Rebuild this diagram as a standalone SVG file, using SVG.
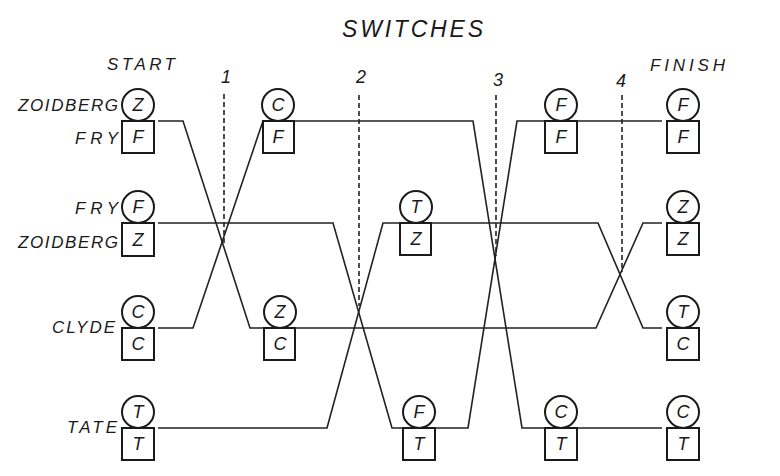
<svg xmlns="http://www.w3.org/2000/svg" width="780" height="476" viewBox="0 0 780 476">
<style>
.bg{fill:#fff}
.n circle,.n rect{fill:#fff;stroke:#1a1a1a;stroke-width:2}
.n text{font-family:"Liberation Sans",Arial,sans-serif;font-style:italic;font-size:18px;fill:#1a1a1a;text-anchor:middle}
.lbl{font-family:"Liberation Sans",Arial,sans-serif;font-style:italic;font-size:17px;fill:#1a1a1a}
.ttl{font-family:"Liberation Sans",Arial,sans-serif;font-style:italic;font-size:23px;fill:#1a1a1a}
.num{font-family:"Liberation Sans",Arial,sans-serif;font-style:italic;font-size:18px;fill:#1a1a1a;text-anchor:middle}
.wire{fill:none;stroke:#222;stroke-width:1.6;stroke-linejoin:miter}
.sw{fill:none;stroke:#222;stroke-width:1.6;stroke-dasharray:5 3}
</style>
<rect class="bg" x="0" y="0" width="780" height="476"/>

<text class="ttl" x="342" y="37" textLength="141" lengthAdjust="spacing">SWITCHES</text>
<text class="lbl" x="107" y="70" textLength="68" lengthAdjust="spacing">START</text>
<text class="lbl" x="650" y="71" textLength="75" lengthAdjust="spacing">FINISH</text>

<text class="lbl" x="18" y="111" textLength="100" lengthAdjust="spacing">ZOIDBERG</text>
<text class="lbl" x="75" y="144" textLength="43" lengthAdjust="spacing">FRY</text>
<text class="lbl" x="75" y="214" textLength="43" lengthAdjust="spacing">FRY</text>
<text class="lbl" x="18" y="248" textLength="100" lengthAdjust="spacing">ZOIDBERG</text>
<text class="lbl" x="52" y="333" textLength="63" lengthAdjust="spacing">CLYDE</text>
<text class="lbl" x="67" y="433" textLength="50" lengthAdjust="spacing">TATE</text>

<g id="connectors">
<polyline class="wire" points="158,121 183,121 250,328 596,328 643,223 662,223"/>
<polyline class="wire" points="158,223 333,223 392,428 468,428 517,121 662,121"/>
<polyline class="wire" points="158,328 193,328 263,121 473,121 522,428 662,428"/>
<polyline class="wire" points="158,428 327,428 383,223 598,223 643,328 662,328"/>
<line class="sw" x1="224" y1="94" x2="224" y2="246"/>
<line class="sw" x1="359" y1="95" x2="359" y2="306"/>
<line class="sw" x1="496" y1="95" x2="496" y2="256"/>
<line class="sw" x1="622" y1="95" x2="622" y2="272"/>
<text class="num" x="226" y="83">1</text>
<text class="num" x="361" y="83">2</text>
<text class="num" x="498" y="86">3</text>
<text class="num" x="621" y="87">4</text>
</g>

<g id="start-1" class="n"><circle cx="138" cy="105" r="16"/><rect x="122" y="121" width="32" height="32"/><text x="138" y="111">Z</text><text x="138" y="143">F</text></g>
<g id="start-2" class="n"><circle cx="138" cy="207" r="16"/><rect x="122" y="223" width="32" height="33"/><text x="138" y="213">F</text><text x="138" y="246">Z</text></g>
<g id="start-3" class="n"><circle cx="138" cy="312" r="16"/><rect x="122" y="328" width="32" height="32"/><text x="138" y="318">C</text><text x="138" y="350">C</text></g>
<g id="start-4" class="n"><circle cx="138" cy="412" r="16"/><rect x="122" y="428" width="32" height="32"/><text x="138" y="418">T</text><text x="138" y="450">T</text></g>

<g id="s1-1" class="n"><circle cx="278" cy="105" r="16"/><rect x="263" y="121" width="31" height="32"/><text x="278" y="111">C</text><text x="278" y="143">F</text></g>
<g id="s1-3" class="n"><circle cx="280" cy="312" r="16"/><rect x="264" y="328" width="31" height="32"/><text x="280" y="318">Z</text><text x="280" y="350">C</text></g>

<g id="s2-2" class="n"><circle cx="416" cy="207" r="16"/><rect x="400" y="223" width="31" height="32"/><text x="416" y="213">T</text><text x="416" y="245">Z</text></g>
<g id="s2-4" class="n"><circle cx="419" cy="412" r="16"/><rect x="403" y="428" width="32" height="32"/><text x="419" y="418">F</text><text x="419" y="450">T</text></g>

<g id="s3-1" class="n"><circle cx="561" cy="105" r="16"/><rect x="545" y="121" width="32" height="32"/><text x="561" y="111">F</text><text x="561" y="143">F</text></g>
<g id="s3-4" class="n"><circle cx="561" cy="412" r="16"/><rect x="545" y="428" width="32" height="32"/><text x="561" y="418">C</text><text x="561" y="450">T</text></g>

<g id="finish-1" class="n"><circle cx="683" cy="105" r="16"/><rect x="667" y="121" width="32" height="32"/><text x="683" y="111">F</text><text x="683" y="143">F</text></g>
<g id="finish-2" class="n"><circle cx="683" cy="207" r="16"/><rect x="667" y="223" width="32" height="32"/><text x="683" y="213">Z</text><text x="683" y="245">Z</text></g>
<g id="finish-3" class="n"><circle cx="683" cy="312" r="16"/><rect x="667" y="328" width="32" height="32"/><text x="683" y="318">T</text><text x="683" y="350">C</text></g>
<g id="finish-4" class="n"><circle cx="683" cy="412" r="16"/><rect x="667" y="428" width="32" height="32"/><text x="683" y="418">C</text><text x="683" y="450">T</text></g>
</svg>
